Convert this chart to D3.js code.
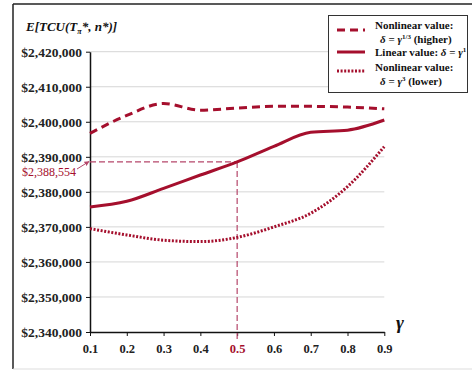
<!DOCTYPE html>
<html>
<head>
<meta charset="utf-8">
<script src="https://cdn.jsdelivr.net/npm/d3@7"></script>
<style>
  body { margin: 0; background: #fff; }
  svg { display: block; }
  text { font-family: "Liberation Serif", "Times New Roman", serif; }
</style>
</head>
<body>
<div id="chart"></div>
<script>
// gamma values on the x axis
var gammas = [0.1, 0.2, 0.3, 0.4, 0.5, 0.6, 0.7, 0.8, 0.9];

// E[TCU] for each weighting of delta
var higherVals = [2396700, 2401800, 2405200, 2403300, 2403900, 2404400, 2404400, 2404200, 2403700];
var linearVals = [2375700, 2377300, 2381000, 2384800, 2388554, 2393000, 2397000, 2397600, 2400500];
var lowerVals  = [2369500, 2367700, 2366200, 2365800, 2367000, 2370000, 2373900, 2381500, 2392900];

var yTicks = [2340000, 2350000, 2360000, 2370000, 2380000, 2390000, 2400000, 2410000, 2420000];
var markGamma = 0.5;
var markValue = 2388554;

var W = 472, H = 371;
var red = "#a50f2d", refRed = "#b5476b";

var svg = d3.select("#chart").append("svg")
  .attr("width", W)
  .attr("height", H);

var x = d3.scaleLinear().domain([0.1, 0.9]).range([90, 384.3]);
var y = d3.scaleLinear().domain([2340000, 2420000]).range([332, 51.7]);

// outer frame (left / top dark, bottom light)
svg.append("line").attr("x1", 13).attr("y1", 4).attr("x2", W).attr("y2", 4)
  .attr("stroke", "#222").attr("stroke-width", 1.5);
svg.append("line").attr("x1", 13).attr("y1", 4).attr("x2", 13).attr("y2", 369)
  .attr("stroke", "#222").attr("stroke-width", 1.5);
svg.append("line").attr("x1", 13).attr("y1", 369).attr("x2", W).attr("y2", 369)
  .attr("stroke", "#ddd").attr("stroke-width", 1);

// gridlines
svg.append("g")
  .selectAll("line")
  .data(yTicks.slice(1))
  .enter().append("line")
  .attr("x1", x(0.1)).attr("x2", x(0.9))
  .attr("y1", d => y(d)).attr("y2", d => y(d))
  .attr("stroke", "#d6d6d6").attr("stroke-width", 1);

// y axis
var fmt = d3.format("$,");
var yAxis = svg.append("g")
  .attr("transform", "translate(" + x(0.1) + ",0)")
  .call(d3.axisLeft(y).tickValues(yTicks).tickFormat(fmt).tickSize(4).tickSizeOuter(0));
yAxis.select(".domain").attr("stroke", "#111").attr("stroke-width", 1.5);
yAxis.selectAll(".tick line").attr("stroke", "#111");
yAxis.selectAll("text")
  .attr("x", -8)
  .style("font-family", "Liberation Serif, serif")
  .style("font-size", "13.5px").style("font-weight", "bold").attr("fill", "#222");

// x axis
var xAxis = svg.append("g")
  .attr("transform", "translate(0," + y(2340000) + ")")
  .call(d3.axisBottom(x).tickValues(gammas).tickFormat(d3.format(".1f")).tickSize(4).tickSizeOuter(0));
xAxis.select(".domain").attr("stroke", "#111").attr("stroke-width", 1.5);
xAxis.selectAll(".tick line").attr("stroke", "#111");
xAxis.selectAll("text")
  .attr("y", 12)
  .style("font-family", "Liberation Serif, serif")
  .style("font-size", "12.5px").style("font-weight", "bold")
  .attr("fill", d => d === markGamma ? red : "#222");

// reference lines to the linear value at gamma = 0.5
svg.append("line")
  .attr("x1", x(0.1)).attr("x2", x(markGamma))
  .attr("y1", y(markValue)).attr("y2", y(markValue))
  .attr("stroke", refRed).attr("stroke-width", 1.2).attr("stroke-dasharray", "6,3");
svg.append("line")
  .attr("x1", x(markGamma)).attr("x2", x(markGamma))
  .attr("y1", y(markValue)).attr("y2", 341)
  .attr("stroke", refRed).attr("stroke-width", 1.2).attr("stroke-dasharray", "6,3");

// series
var series = [
  { name: "higher", vals: higherVals, dash: "8,5", width: 3 },
  { name: "linear", vals: linearVals, dash: null, width: 3 },
  { name: "lower", vals: lowerVals, dash: "2,1.6", width: 3 }
];

var line = d3.line()
  .x((d, i) => x(gammas[i]))
  .y(d => y(d))
  .curve(d3.curveMonotoneX);

svg.append("g").selectAll("path")
  .data(series)
  .enter().append("path")
  .attr("d", d => line(d.vals))
  .attr("fill", "none")
  .attr("stroke", red)
  .attr("stroke-width", d => d.width)
  .attr("stroke-dasharray", d => d.dash);

// annotation of the marked value
svg.append("defs").append("marker")
  .attr("id", "arr")
  .attr("viewBox", "0 0 10 10")
  .attr("refX", 9).attr("refY", 5)
  .attr("markerWidth", 5).attr("markerHeight", 5)
  .attr("orient", "auto")
  .append("path").attr("d", "M0,0L10,5L0,10z").attr("fill", refRed);

svg.append("text")
  .attr("x", 22).attr("y", 176)
  .attr("fill", red)
  .style("font-size", "12px")
  .text("$" + d3.format(",")(markValue));
svg.append("line")
  .attr("x1", 77).attr("y1", 169)
  .attr("x2", 89).attr("y2", 161.5)
  .attr("stroke", refRed).attr("stroke-width", 1)
  .attr("marker-end", "url(#arr)");

// axis titles
var yt = svg.append("text")
  .attr("x", 26).attr("y", 31)
  .style("font-size", "13px").style("font-weight", "bold").style("font-style", "italic")
  .attr("fill", "#111");
yt.append("tspan").text("E[TCU(T");
yt.append("tspan").attr("dy", 3).style("font-size", "8px").text("π");
yt.append("tspan").attr("dy", -3).text("*, n*)]");

svg.append("text")
  .attr("x", 396).attr("y", 329)
  .style("font-size", "19px").style("font-weight", "bold").style("font-style", "italic")
  .attr("fill", "#111")
  .text("γ");

// legend
var lg = svg.append("g");
lg.append("rect")
  .attr("x", 328.5).attr("y", 15.5)
  .attr("width", 139).attr("height", 77)
  .attr("fill", "#fff").attr("stroke", "#333").attr("stroke-width", 1);

var legendRows = [
  { dash: "8,5", y: 30 },
  { dash: null, y: 52 },
  { dash: "2,1.6", y: 71 }
];
lg.selectAll("line.sw")
  .data(legendRows)
  .enter().append("line")
  .attr("class", "sw")
  .attr("x1", 337).attr("x2", 365)
  .attr("y1", d => d.y).attr("y2", d => d.y)
  .attr("stroke", red).attr("stroke-width", 3)
  .attr("stroke-dasharray", d => d.dash);

function legendText(xp, yp) {
  return lg.append("text")
    .attr("x", xp).attr("y", yp)
    .style("font-size", "11px").style("font-weight", "bold")
    .attr("fill", "#111");
}
legendText(375, 29).text("Nonlinear value:");
var t2 = legendText(380, 43);
t2.append("tspan").style("font-style", "italic").text("δ");
t2.append("tspan").text(" = ");
t2.append("tspan").style("font-style", "italic").text("γ");
t2.append("tspan").attr("dy", -4).style("font-size", "7px").text("1/3");
t2.append("tspan").attr("dy", 4).text(" (higher)");
var t3 = legendText(375, 56);
t3.append("tspan").text("Linear value: ");
t3.append("tspan").style("font-style", "italic").text("δ");
t3.append("tspan").text(" = ");
t3.append("tspan").style("font-style", "italic").text("γ");
t3.append("tspan").attr("dy", -4).style("font-size", "7px").text("1");
legendText(375, 71).text("Nonlinear value:");
var t5 = legendText(380, 85);
t5.append("tspan").style("font-style", "italic").text("δ");
t5.append("tspan").text(" = ");
t5.append("tspan").style("font-style", "italic").text("γ");
t5.append("tspan").attr("dy", -4).style("font-size", "7px").text("3");
t5.append("tspan").attr("dy", 4).text(" (lower)");
</script>
</body>
</html>
